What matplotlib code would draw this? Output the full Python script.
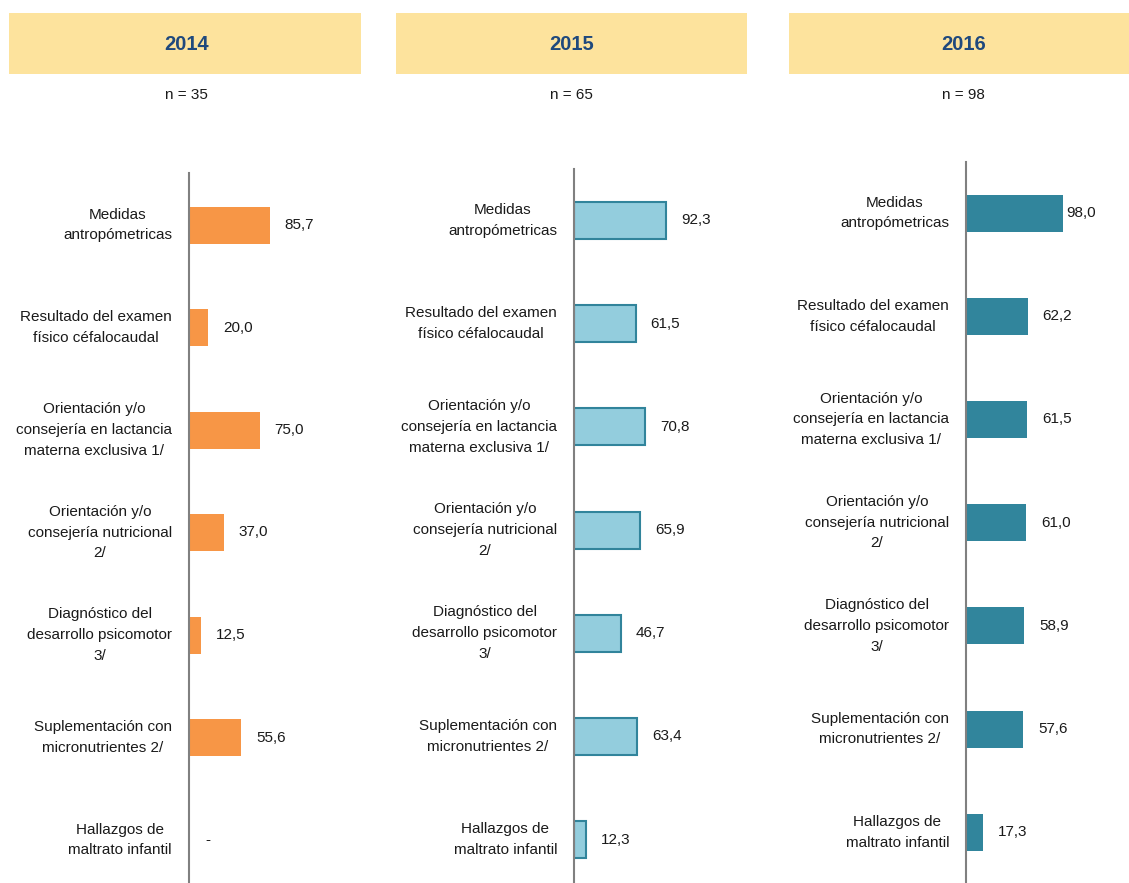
import matplotlib
matplotlib.use("Agg")
import matplotlib.pyplot as plt
from matplotlib.patches import Rectangle
from matplotlib import font_manager

# ---------------- data ----------------
categories = [
    "Medidas\nantropómetricas",
    "Resultado del examen\nfísico céfalocaudal",
    "Orientación y/o\nconsejería en lactancia\nmaterna exclusiva 1/",
    "Orientación y/o\nconsejería nutricional\n2/",
    "Diagnóstico del\ndesarrollo psicomotor\n3/",
    "Suplementación con\nmicronutrientes 2/",
    "Hallazgos de\nmaltrato infantil",
]
years = ["2014", "2015", "2016"]
n_values = [35, 65, 98]
values_2014 = [85.7, 20.0, 75.0, 37.0, 12.5, 55.6, 0.0]
values_2015 = [92.3, 61.5, 70.8, 65.9, 46.7, 63.4, 12.3]
values_2016 = [98.0, 62.2, 61.5, 61.0, 58.9, 57.6, 17.3]
series = [values_2014, values_2015, values_2016]

# ---------------- style / layout ----------------
W, H = 1129, 883
installed = {f.name for f in font_manager.fontManager.ttflist}
NARROW = "Liberation Sans Narrow" in installed
if NARROW:
    plt.rcParams["font.family"] = ["Liberation Sans Narrow", "Liberation Sans", "DejaVu Sans"]
    body_fs = 13
    head_fs = 17
    line_sp = 1.2
else:
    plt.rcParams["font.family"] = ["Liberation Sans", "DejaVu Sans"]
    body_fs = 11
    head_fs = 14.5
    line_sp = 1.62

bar_colors = ["#F79646", "#93CDDD", "#31859C"]
edge_colors = ["#F79646", "#31849B", "#31859C"]
header_color = "#FDE39D"
year_color = "#1F497D"
text_color = "#1A1A1A"

# panel geometry in pixels (from top-left)
axis_x = [189, 574, 966]
top_px = [173, 169, 162]
center0 = [225, 220.5, 213]
spacing = [102.5, 103.2, 103.2]
px_per_unit = [0.94, 1.0, 0.99]
xmax = [110, 110, 101]
header_x = [(9, 361), (396, 747), (789, W)]
header_y = (13, 74)
bar_h_px = 37

fig = plt.figure(figsize=(W / 100, H / 100), dpi=100)
fig.patch.set_facecolor("white")

for k in range(3):
    # header box
    x0, x1 = header_x[k]
    fig.add_artist(Rectangle((x0 / W, 1 - header_y[1] / H), (x1 - x0) / W,
                             (header_y[1] - header_y[0]) / H,
                             transform=fig.transFigure, facecolor=header_color,
                             edgecolor="none"))
    fig.text(axis_x[k] / W - 0.002, 1 - 44 / H, years[k], ha="center", va="center",
             fontsize=head_fs, fontweight="bold", color=year_color)
    fig.text(axis_x[k] / W - 0.002, 1 - 95 / H, f"n = {n_values[k]}", ha="center",
             va="center", fontsize=body_fs, color=text_color)

    # axes
    width_px = xmax[k] * px_per_unit[k]
    ax = fig.add_axes([axis_x[k] / W, 0, width_px / W, (H - top_px[k]) / H])
    i_top = (top_px[k] - center0[k]) / spacing[k]
    i_bot = (H - center0[k]) / spacing[k]
    ax.set_xlim(0, xmax[k])
    ax.set_ylim(i_bot, i_top)
    ax.patch.set_alpha(0)
    for s in ["top", "right", "bottom"]:
        ax.spines[s].set_visible(False)
    ax.spines["left"].set_color("#808080")
    ax.spines["left"].set_linewidth(1.5)
    ax.set_xticks([])
    ax.set_yticks([])

    vals = series[k]
    ypos = list(range(len(categories)))
    lw = 1.5 if k == 1 else 0
    ax.barh(ypos, vals, height=bar_h_px / spacing[k], color=bar_colors[k],
            edgecolor=edge_colors[k], linewidth=lw, zorder=2)

    for i, (cat, v) in enumerate(zip(categories, vals)):
        ax.annotate(cat, xy=(0, i), xytext=(-17, 0), textcoords="offset pixels",
                    ha="right", va="center", multialignment="center",
                    fontsize=body_fs, color=text_color, linespacing=line_sp,
                    annotation_clip=False)
        label = "-" if v == 0 else f"{v:.1f}".replace(".", ",")
        off = 16 if v == 0 else 15
        xt = min(v + off / px_per_unit[k], xmax[k])
        ax.text(xt, i, label, ha="left", va="center", fontsize=body_fs,
                color=text_color, clip_on=False)

fig.savefig("out.png", dpi=100, facecolor="white")
